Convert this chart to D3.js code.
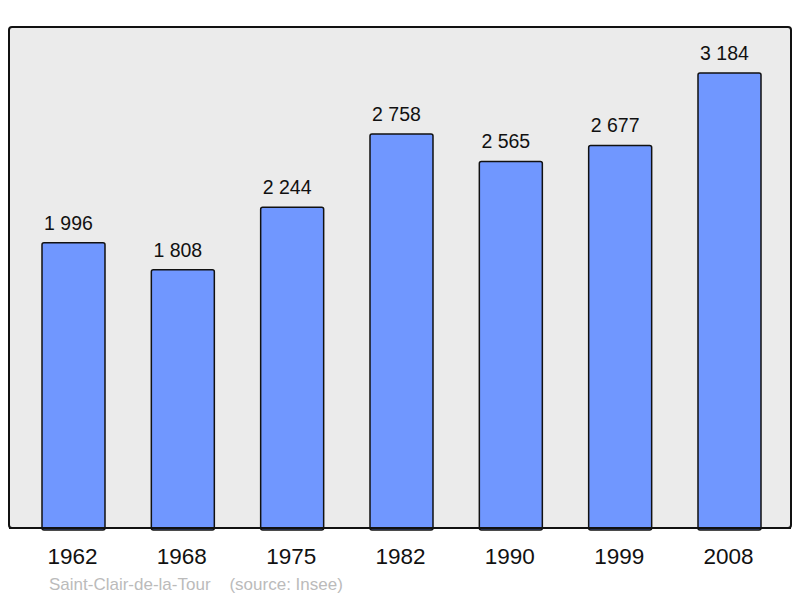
<!DOCTYPE html>
<html>
<head>
<meta charset="utf-8">
<script src="https://cdn.jsdelivr.net/npm/d3@7"></script>
<style>
  body { margin: 0; background: #fff; }
</style>
</head>
<body>
<div id="chart"></div>
<script>
const years = ['1962', '1968', '1975', '1982', '1990', '1999', '2008']
const population = [1996, 1808, 2244, 2758, 2565, 2677, 3184]
const valueLabels = ['1 996', '1 808', '2 244', '2 758', '2 565', '2 677', '3 184']

const width = 800
const height = 598
const box = { left: 9, top: 27, right: 791, bottom: 528 }

const svg = d3.select('#chart')
              .append('svg')
              .attr('width', width)
              .attr('height', height)

// plot background
svg.append('rect')
   .attr('x', box.left)
   .attr('y', box.top)
   .attr('width', box.right - box.left)
   .attr('height', box.bottom - box.top)
   .attr('rx', 3)
   .style('fill', '#ebebeb')
   .style('stroke', '#111')
   .style('stroke-width', 2)

let x = d3.scaleBand()
          .domain(years)
          .range([42, 761])
          .paddingInner(0.4238)
          .paddingOuter(0)

let y = d3.scaleLinear()
          .domain([0, 3506])
          .range([box.bottom, box.top])

svg.selectAll('.bar')
   .data(population)
   .enter()
   .append('rect')
   .attr('class', 'bar')
   .attr('x', (_, i) => x(years[i]))
   .attr('y', d => y(d))
   .attr('width', x.bandwidth())
   .attr('height', d => box.bottom - y(d) + 2)
   .attr('rx', 2)
   .style('fill', '#7097ff')
   .style('stroke', '#111')
   .style('stroke-width', 1.5)

// redraw bottom edge of box over the bars
svg.append('line')
   .attr('x1', box.left)
   .attr('x2', box.right)
   .attr('y1', box.bottom)
   .attr('y2', box.bottom)
   .style('stroke', '#111')
   .style('stroke-width', 2)

// value labels sit a little left of the bar centre, as in the original
svg.selectAll('.val')
   .data(population)
   .enter()
   .append('text')
   .attr('class', 'val')
   .attr('x', (_, i) => x(years[i]) + x.bandwidth() / 2 - 5)
   .attr('y', d => y(d) - 13)
   .attr('text-anchor', 'middle')
   .text((_, i) => valueLabels[i])
   .style('font', '19.5px "Liberation Sans", Arial, sans-serif')
   .style('fill', '#111')

svg.selectAll('.year')
   .data(years)
   .enter()
   .append('text')
   .attr('class', 'year')
   .attr('x', d => x(d) + x.bandwidth() / 2 - 1)
   .attr('y', 564)
   .attr('text-anchor', 'middle')
   .text(d => d)
   .style('font', '22.5px "Liberation Sans", Arial, sans-serif')
   .style('fill', '#111')

svg.append('text')
   .attr('x', 49)
   .attr('y', 590)
   .text('Saint-Clair-de-la-Tour    (source: Insee)')
   .style('font', '17px "Liberation Sans", Arial, sans-serif')
   .style('fill', '#bbb')
   .style('white-space', 'pre')
</script>
</body>
</html>
